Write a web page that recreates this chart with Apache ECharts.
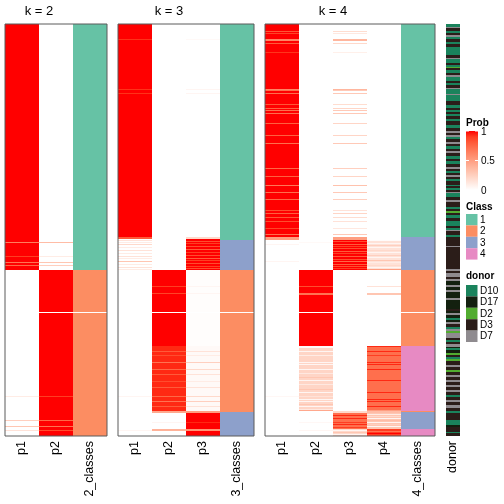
<!DOCTYPE html>
<html><head><meta charset="utf-8">
<script src="https://cdn.jsdelivr.net/npm/echarts@6/dist/echarts.min.js"></script>
<style>html,body{margin:0;padding:0;background:#fff}#c{width:504px;height:504px}</style>
</head><body><div id="c"></div><script>
// ---- data (row positions are sample slots 0..412, top to bottom) ----
const nRows = 412;
const gapRows = [288];
const k2Cats = ['p1', 'p2', '2_classes'];
const k3Cats = ['p1', 'p2', 'p3', '3_classes'];
const k4Cats = ['p1', 'p2', 'p3', 'p4', '4_classes'];
const donorCats = ['donor'];
const classNames = ['1', '2', '3', '4'];
const donorNames = ['D10', 'D17', 'D2', 'D3', 'D7'];
const probTicks = ['1', '0.5', '0'];

// runs: [rowStart, rowEnd, probability]
const k2_p1 = [[0,246,1],[218,219,0.65],[232,233,0.9],[238,239,0.7],[241,242,0.75],
  [246,412,0],[372,373,0.1],[396,397,0.25],[402,403,0.3],[406,407,0.15]];
const k2_p2 = [[0,246,0],[218,219,0.35],[232,233,0.1],[238,239,0.3],[241,242,0.25],
  [246,412,1],[372,373,0.9],[396,397,0.75],[402,403,0.7],[406,407,0.85]];
const k2_class = [[0,246,1],[246,412,2]];

const k3_p1 = [[0,213,1],[15,16,0.93],[65,66,0.93],[69,70,0.93],[213,215,0.8],[215,412,0],
  [216,217,0.15],[218,219,0.1],[220,221,0.2],[223,224,0.1],[226,227,0.15],[229,230,0.1],
  [232,233,0.15],[234,235,0.1],[237,238,0.3],[240,241,0.1],[243,244,0.15],[245,246,0.1],
  [372,373,0.05],[406,407,0.05]];
const k3_p2 = [[0,246,0],[246,387,1],[262,263,0.9],[269,270,0.88],[322,387,0.95],
  [327,328,0.8],[331,332,0.85],[338,339,0.7],[345,346,0.75],[350,351,0.8],[357,358,0.85],
  [363,364,0.8],[372,373,0.75],[377,378,0.7],[382,383,0.8],[387,389,0.45],[389,412,0],
  [398,399,0.05],[405,407,0.4]];
const k3_p3 = [[0,213,0],[15,16,0.03],[65,66,0.05],[69,70,0.05],[213,215,0.2],[215,246,1],
  [217,218,0.85],[219,220,0.9],[222,223,0.85],[225,226,0.8],[228,229,0.9],[231,232,0.85],
  [234,235,0.8],[236,237,0.9],[239,240,0.85],[242,243,0.9],[244,245,0.85],
  [246,322,0.01],[262,263,0.05],[269,270,0.05],[322,387,0.03],
  [327,328,0.15],[331,332,0.1],[338,339,0.25],[345,346,0.2],[350,351,0.15],[357,358,0.1],
  [363,364,0.15],[372,373,0.2],[377,378,0.25],[382,383,0.15],[387,389,0.5],[389,412,1],
  [398,399,0.95],[405,407,0.55]];
const k3_class = [[0,216,1],[216,246,3],[246,388,2],[388,412,3]];

const k4_p1 = [[0,213,1],[7,8,0.82],[9,10,0.88],[15,17,0.62],[19,20,0.8],[28,29,0.92],
  [65,66,0.62],[66,67,0.72],[69,70,0.72],[80,81,0.82],[84,85,0.78],[86,87,0.72],[89,90,0.72],
  [99,100,0.78],[111,112,0.78],[119,120,0.72],[144,145,0.75],[152,153,0.78],[161,162,0.68],
  [168,169,0.72],[175,176,0.75],[186,187,0.85],[189,190,0.78],[193,194,0.82],[197,198,0.85],
  [204,205,0.88],[210,211,0.72],[213,216,0.5],[216,412,0],[220,221,0.05],[237,238,0.05],
  [372,373,0.04]];
const k4_p2 = [[0,246,0],[218,219,0.03],[246,322,1],[262,263,0.85],[269,271,0.7],
  [322,387,0.22],[322,324,0.03],[327,328,0.05],[331,332,0.1],[338,339,0.05],[340,341,0.05],
  [345,346,0.05],[349,350,0.12],[353,354,0.3],[356,357,0.05],[360,361,0.12],[365,366,0.3],
  [368,369,0.05],[372,373,0.15],[375,376,0.05],[377,378,0.05],[380,381,0.3],[382,383,0.05],
  [385,386,0.12],[386,387,0.45],[387,412,0],[398,399,0.04],[406,407,0.05]];
const k4_p3 = [[0,213,0],[7,8,0.18],[9,10,0.12],[15,17,0.38],[19,20,0.2],[28,29,0.08],
  [65,66,0.38],[66,67,0.28],[69,70,0.28],[80,81,0.18],[84,85,0.22],[86,87,0.28],[89,90,0.28],
  [99,100,0.22],[111,112,0.22],[119,120,0.28],[144,145,0.25],[152,153,0.22],[161,162,0.32],
  [168,169,0.28],[175,176,0.25],[186,187,0.15],[189,190,0.22],[193,194,0.18],[197,198,0.15],
  [204,205,0.12],[210,211,0.28],[213,216,0.5],[216,246,1],
  [217,218,0.85],[220,221,0.8],[222,223,0.9],[224,225,0.85],[227,228,0.8],[229,230,0.9],
  [232,233,0.8],[235,236,0.85],[237,238,0.75],[240,241,0.8],[242,243,0.85],[244,245,0.9],
  [246,387,0],[387,389,0.2],[389,405,0.72],[391,392,0.95],[394,395,0.95],[398,399,0.9],
  [400,401,0.95],[403,404,0.9],[405,412,0.2],[406,407,0.05],[408,409,0.3],[410,411,0.05]];
const k4_p4 = [[0,216,0],[216,246,0.15],[216,217,0.02],[219,220,0.05],[221,222,0.25],
  [223,224,0.05],[226,227,0.2],[228,229,0.05],[231,232,0.25],[233,234,0.05],[236,237,0.3],
  [238,239,0.1],[241,242,0.2],[243,244,0.05],[245,246,0.5],[246,322,0],[262,263,0.15],
  [269,271,0.3],[322,387,0.72],[322,323,0.95],[327,328,0.95],[331,332,0.9],[338,339,0.95],
  [340,341,0.95],[345,346,0.95],[356,357,0.95],[368,369,0.95],[375,376,0.95],[377,378,0.95],
  [382,383,0.95],[386,387,0.5],[387,389,0.35],[389,405,0.3],[390,391,0.1],[392,393,0.2],
  [394,395,0.05],[396,397,0.35],[398,399,0.05],[400,401,0.25],[402,403,0.05],[405,412,0.9],
  [407,408,0.7],[409,410,1]];
const k4_class = [[0,213,1],[213,246,3],[246,322,2],[322,387,4],[387,388,2],[388,405,3],[405,412,4]];

// donor runs: [rowStart, rowEnd, donorIndex]  (0 D10, 1 D17, 2 D2, 3 D3, 4 D7)
const donorRuns = [[0,3,0],[3,4,4],[4,7,3],[7,9,0],[9,11,3],[11,13,4],[13,15,0],[15,18,3],
 [18,20,0],[20,23,3],[23,31,0],[31,34,3],[34,35,4],[35,39,0],[39,41,3],[41,43,0],[43,44,2],
 [44,46,3],[46,49,0],[49,51,3],[51,53,4],[53,57,0],[57,59,3],[59,61,0],[61,64,3],[64,65,4],
 [65,70,0],[70,71,4],[71,77,0],[77,81,3],[81,84,0],[84,86,3],[86,88,0],[88,90,3],[90,92,0],
 [92,95,3],[95,97,0],[97,101,3],[101,104,0],[104,107,3],[107,109,4],[109,111,3],[111,113,4],
 [113,115,0],[115,118,3],[118,120,4],[120,122,3],[122,125,0],[125,127,3],[127,129,4],
 [129,132,3],[132,135,0],[135,137,3],[137,140,0],[140,143,3],[143,145,4],[145,147,3],
 [147,149,0],[149,151,3],[151,153,4],[153,155,3],[155,157,0],[157,161,3],[161,162,0],
 [162,164,3],[164,166,0],[166,168,3],[168,169,4],[169,173,0],[173,176,3],[176,178,4],
 [178,183,3],[183,185,0],[185,187,3],[187,189,2],[189,191,3],[191,194,0],[194,197,3],
 [197,202,0],[202,204,3],[204,206,0],[206,207,4],[207,211,3],[211,213,0],[213,222,3],
 [222,223,4],[223,245,3],[245,247,4],[247,249,3],[249,253,4],[253,255,3],[255,257,4],
 [257,261,1],[261,263,4],[263,266,1],[266,268,4],[268,274,1],[274,276,4],[276,285,1],
 [285,287,3],[287,289,1],[289,291,4],[291,294,1],[294,296,0],[296,298,1],[298,300,4],
 [300,303,3],[303,305,0],[305,307,4],[307,309,2],[309,314,4],[314,316,3],[316,318,0],
 [318,320,3],[320,323,4],[323,324,1],[324,326,0],[326,329,1],[329,331,2],[331,333,3],
 [333,335,0],[335,337,2],[337,341,3],[341,343,4],[343,346,3],[346,348,2],[348,351,3],
 [351,353,4],[353,356,3],[356,358,4],[358,361,3],[361,363,4],[363,366,3],[366,368,4],
 [368,371,3],[371,373,0],[373,376,3],[376,378,4],[378,381,3],[381,384,4],[384,387,3],
 [387,389,0],[389,396,3],[396,401,0],[401,403,1],[403,408,3],[408,409,0],[409,412,3]];

// ---- styles ----
const classColors = ['#ffffff', '#66C2A5', '#FC8D62', '#8DA0CB', '#E78AC3'];
const donorColors = ['#1A835C', '#13200F', '#52AC30', '#2B1D19', '#8F8B8F'];
const FONT = '"Liberation Sans", Arial, sans-serif';

// white -> red in LAB space
function srgb2lin(c){c/=255;return c<=0.04045?c/12.92:Math.pow((c+0.055)/1.055,2.4);}
function lin2srgb(c){c=Math.max(0,Math.min(1,c));return 255*(c<=0.0031308?12.92*c:1.055*Math.pow(c,1/2.4)-0.055);}
function rgb2lab(r,g,b){r=srgb2lin(r);g=srgb2lin(g);b=srgb2lin(b);
  let X=(0.4124*r+0.3576*g+0.1805*b)/0.95047,Y=0.2126*r+0.7152*g+0.0722*b,Z=(0.0193*r+0.1192*g+0.9505*b)/1.08883;
  const f=t=>t>0.008856?Math.cbrt(t):7.787*t+16/116;
  return [116*f(Y)-16,500*(f(X)-f(Y)),200*(f(Y)-f(Z))];}
function lab2rgb(L,a,b){const fy=(L+16)/116,fx=fy+a/500,fz=fy-b/200;
  const g=t=>t*t*t>0.008856?t*t*t:(t-16/116)/7.787;
  const X=g(fx)*0.95047,Y=g(fy),Z=g(fz)*1.08883;
  const r=3.2406*X-1.5372*Y-0.4986*Z,gg=-0.9689*X+1.8758*Y+0.0415*Z,bb=0.0557*X-0.2040*Y+1.0570*Z;
  return 'rgb('+Math.round(lin2srgb(r))+','+Math.round(lin2srgb(gg))+','+Math.round(lin2srgb(bb))+')';}
const LW=rgb2lab(255,255,255), LR=rgb2lab(255,0,0);
function probColor(v){v=Math.max(0,Math.min(1,v));
  return lab2rgb(LW[0]+(LR[0]-LW[0])*v,LW[1]+(LR[1]-LW[1])*v,LW[2]+(LR[2]-LW[2])*v);}

// ---- build ----
const panels = [
  {cats:k2Cats, cols:[k2_p1,k2_p2], cls:k2_class, left:5, width:102, title:'k = 2'},
  {cats:k3Cats, cols:[k3_p1,k3_p2,k3_p3], cls:k3_class, left:118, width:136, title:'k = 3'},
  {cats:k4Cats, cols:[k4_p1,k4_p2,k4_p3,k4_p4], cls:k4_class, left:265, width:170, title:'k = 4'},
  {cats:donorCats, donor:donorRuns, left:446, width:14}
];
const TOP=24, H=412;
const grids=[], xAxes=[], yAxes=[], series=[], graphics=[];
function renderItem(params, api){
  const col=api.value(0), r0=api.value(1), r1=api.value(2), v=api.value(3), kind=api.value(4);
  const p0=api.coord([col,r0]), p1=api.coord([col,r1]);
  const w=api.size([1,0])[0];
  let fill;
  if(kind===0) fill=probColor(v);
  else if(kind===1) fill=classColors[v];
  else if(kind===2) fill=donorColors[v];
  else fill='#ffffff';
  return {type:'rect', shape:{x:p0[0]-w/2, y:p0[1], width:w, height:p1[1]-p0[1]}, style:{fill:fill}};
}
panels.forEach((p,i)=>{
  const isDonor=!!p.donor;
  grids.push({left:p.left, top:TOP, width:p.width, height:H, show:!isDonor,
    borderColor:'#5a5a5a', borderWidth:1, backgroundColor:'transparent', z:10});
  xAxes.push({type:'category', gridIndex:i, data:p.cats, position:'bottom',
    axisLine:{show:false}, axisTick:{show:false}, splitLine:{show:false},
    axisLabel:{rotate:90, fontSize:12.5, color:'#000', margin:5, fontFamily:FONT, interval:0}});
  yAxes.push({type:'value', gridIndex:i, min:0, max:nRows, inverse:true, show:false});
  const data=[];
  if(isDonor){
    p.donor.forEach(r=>data.push([0,r[0],r[1],r[2],2]));
  } else {
    p.cols.forEach((runs,ci)=>runs.forEach(r=>data.push([ci,r[0],r[1],r[2],0])));
    const cc=p.cols.length;
    p.cls.forEach(r=>data.push([cc,r[0],r[1],r[2],1]));
    gapRows.forEach(g=>{for(let ci=0;ci<=cc;ci++) data.push([ci,g,g+1,0,3]);});
    graphics.push({type:'text', x:p.left+(p.width/p.cats.length)*cc/2, y:11,
      style:{text:p.title, font:'13px '+FONT, fill:'#000', textAlign:'center', textVerticalAlign:'middle', align:'center', verticalAlign:'middle'}});
  }
  series.push({type:'custom', xAxisIndex:i, yAxisIndex:i, renderItem:renderItem, data:data,
    encode:{x:0, y:[1,2]}, silent:true, animation:false});
});

// legends
const LX=466;
function label(t,x,y,bold){return {type:'text', x:x, y:y, style:{text:t, font:(bold?'bold ':'')+'10px '+FONT, fill:'#000',
  textAlign:'left', textVerticalAlign:'middle', align:'left', verticalAlign:'middle'}};}
graphics.push(label('Prob',LX,123,true));
const stops=[];for(let s=0;s<=10;s++){stops.push({offset:s/10,color:probColor(1-s/10)});}
graphics.push({type:'rect', shape:{x:LX,y:131,width:12,height:59}, style:{fill:{type:'linear',x:0,y:0,x2:0,y2:1,colorStops:stops}}});
probTicks.forEach((t,j)=>{
  const y=131+j*29.5;
  graphics.push(label(t,LX+15,y+1,false));
  graphics.push({type:'line', shape:{x1:LX,y1:y,x2:LX+3,y2:y}, style:{stroke:'#fff',lineWidth:1}});
  graphics.push({type:'line', shape:{x1:LX+9,y1:y,x2:LX+12,y2:y}, style:{stroke:'#fff',lineWidth:1}});
});
graphics.push(label('Class',LX,207,true));
classNames.forEach((t,j)=>{
  const y=214+j*11.4;
  graphics.push({type:'rect', shape:{x:LX,y:y,width:11.5,height:11.4}, style:{fill:classColors[j+1]}});
  graphics.push(label(t,LX+14,y+6,false));
});
graphics.push(label('donor',LX,276,true));
donorNames.forEach((t,j)=>{
  const y=285+j*11.4;
  graphics.push({type:'rect', shape:{x:LX,y:y,width:11.5,height:11.4}, style:{fill:donorColors[j]}});
  graphics.push(label(t,LX+14,y+6,false));
});

const chart=echarts.init(document.getElementById('c'),null,{renderer:'canvas'});
chart.setOption({animation:false, backgroundColor:'#fff', grid:grids, xAxis:xAxes, yAxis:yAxes, series:series, graphic:graphics});
</script></body></html>
